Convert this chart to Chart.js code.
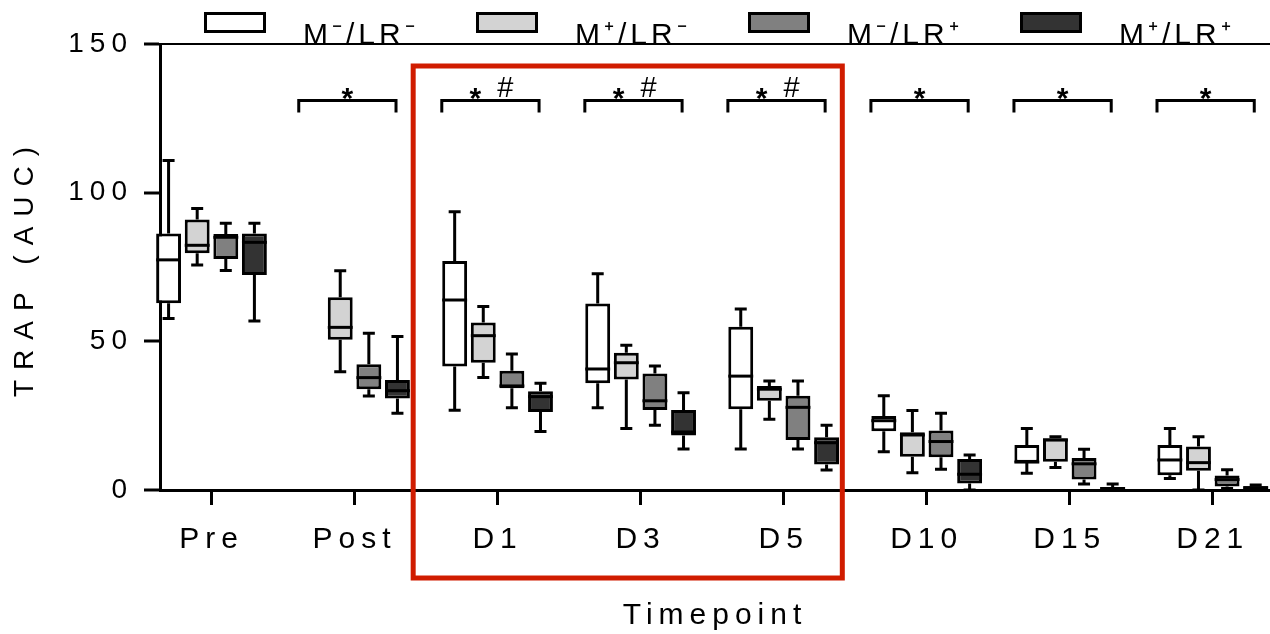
<!DOCTYPE html>
<html>
<head>
<meta charset="utf-8">
<title>TRAP (AUC) by timepoint</title>
<script src="https://cdn.jsdelivr.net/npm/chart.js@4.4.1/dist/chart.umd.min.js"></script>
<style>
  html, body { margin: 0; padding: 0; background: #fff; }
  canvas { display: block; }
</style>
</head>
<body>
<canvas id="trapChart" width="1270" height="634"></canvas>
<script>
// x axis categories
const timepoints = ['Pre', 'Post', 'D1', 'D3', 'D5', 'D10', 'D15', 'D21'];
const groupNames = ['M⁻/LR⁻', 'M⁺/LR⁻', 'M⁻/LR⁺', 'M⁺/LR⁺'];
const groupColors = ['#ffffff', '#d3d3d3', '#808080', '#333333'];
const yTicks = [0, 50, 100, 150];

// one box per timepoint: [min, q1, median, q3, max]
const mNegLrNeg = [
  [57.7, 62.8, 77.4, 86.3, 110.8], null, [26.8, 41.5, 63.9, 77.0, 93.6], [27.7, 35.9, 40.7, 62.7, 72.7],
  [13.8, 27.2, 38.3, 54.9, 60.9], [12.9, 19.8, 23.3, 24.9, 31.7], [5.6, 9.2, 9.4, 15.1, 20.7], [3.9, 5.0, 10.1, 15.1, 20.7]
];
const mPosLrNeg = [
  [75.7, 79.6, 82.3, 91.0, 94.7], [39.8, 50.5, 54.7, 64.8, 73.7], [37.8, 42.8, 51.9, 56.3, 61.7], [20.7, 37.2, 42.8, 46.2, 48.7],
  [23.8, 30.0, 33.9, 35.0, 36.7], [5.8, 11.2, 18.5, 19.4, 26.7], [7.6, 9.5, 16.8, 17.4, 17.9], [0, 6.5, 9.2, 14.6, 17.9]
];
const mNegLrPos = [
  [73.8, 77.7, 85.0, 86.1, 89.7], [31.6, 33.9, 37.8, 42.3, 52.7], [27.7, 34.2, 35.0, 40.1, 45.7], [21.8, 26.9, 30.0, 39.2, 41.7],
  [13.8, 16.8, 27.8, 31.7, 36.7], [7.0, 11.0, 16.3, 20.0, 25.8], [2.0, 3.5, 8.8, 10.8, 13.7], [0.5, 1.2, 3.5, 4.9, 6.8]
];
const mPosLrPos = [
  [56.8, 72.3, 83.3, 86.3, 89.7], [25.8, 30.8, 33.4, 37.0, 51.6], [19.7, 26.2, 31.4, 33.2, 35.9], [13.8, 18.3, 19.5, 26.9, 32.7],
  [6.7, 8.6, 15.9, 17.7, 21.8], [0, 2.2, 5.3, 10.4, 11.8], [0, 0.2, 0.5, 1.0, 2.0], [0, 0.3, 0.8, 1.3, 1.7]
];
const boxSeries = [mNegLrNeg, mPosLrNeg, mNegLrPos, mPosLrPos];

// significance marks above each timepoint
const sigMarks = ['', '*', '*#', '*#', '*#', '*', '*', '*'];
// timepoints framed in red
const framed = ['D1', 'D5'];

const FONT = "'Liberation Sans', Arial, sans-serif";
Chart.defaults.font.family = FONT;
Chart.defaults.color = '#000';

// whiskers under the boxes, medians on top
const boxParts = {
  id: 'boxParts',
  beforeDatasetsDraw(chart) {
    const ctx = chart.ctx, y = chart.scales.y;
    ctx.save();
    ctx.strokeStyle = '#000';
    ctx.lineWidth = 3;
    boxSeries.forEach((series, d) => {
      const meta = chart.getDatasetMeta(d);
      series.forEach((b, i) => {
        if (!b) return;
        const x = meta.data[i].x;
        const lo = y.getPixelForValue(b[0]), hi = y.getPixelForValue(b[4]);
        ctx.beginPath();
        ctx.moveTo(x, y.getPixelForValue(b[3])); ctx.lineTo(x, hi);
        ctx.moveTo(x, y.getPixelForValue(b[1])); ctx.lineTo(x, lo);
        ctx.moveTo(x - 6, hi); ctx.lineTo(x + 6, hi);
        ctx.moveTo(x - 6, lo); ctx.lineTo(x + 6, lo);
        ctx.stroke();
      });
    });
    ctx.restore();
  },
  afterDatasetsDraw(chart) {
    const ctx = chart.ctx, y = chart.scales.y;
    ctx.save();
    ctx.strokeStyle = '#000';
    ctx.lineWidth = 3;
    boxSeries.forEach((series, d) => {
      const meta = chart.getDatasetMeta(d);
      series.forEach((b, i) => {
        if (!b) return;
        const bar = meta.data[i];
        const m = y.getPixelForValue(b[2]);
        ctx.beginPath();
        ctx.moveTo(bar.x - bar.width / 2, m);
        ctx.lineTo(bar.x + bar.width / 2, m);
        ctx.stroke();
      });
    });
    ctx.restore();
  }
};

// spaced lettering like the original figure
const spacing = {
  id: 'spacing',
  beforeUpdate(chart) { chart.ctx.letterSpacing = '6px'; },
  beforeDraw(chart) { chart.ctx.letterSpacing = '6px'; },
  afterLayout(chart) {
    const ys = chart.scales.y;
    if (ys._wideTitle) return;
    const base = ys.drawTitle.bind(ys);
    ys.drawTitle = () => {
      ys.ctx.save();
      ys.ctx.letterSpacing = '10px';
      base();
      ys.ctx.restore();
    };
    ys._wideTitle = true;
  }
};

const extras = {
  id: 'extras',
  afterDraw(chart) {
    const ctx = chart.ctx, x = chart.scales.x, y = chart.scales.y, area = chart.chartArea;
    const unit = x.getPixelForValue(1) - x.getPixelForValue(0);
    ctx.save();

    // legend row
    ctx.font = '30px ' + FONT;
    ctx.letterSpacing = '4px';
    ctx.textBaseline = 'alphabetic';
    ctx.textAlign = 'left';
    groupNames.forEach((name, k) => {
      const bx = area.left + 44 + k * 272;
      ctx.fillStyle = groupColors[k];
      ctx.fillRect(bx, 12, 62, 21);
      ctx.lineWidth = 3;
      ctx.strokeStyle = '#000';
      ctx.strokeRect(bx + 1.5, 13.5, 59, 18);
      ctx.fillStyle = '#000';
      ctx.fillText(name, bx + 99, 44);
    });

    // significance brackets
    ctx.letterSpacing = '0px';
    ctx.lineWidth = 3;
    ctx.textAlign = 'center';
    ctx.textBaseline = 'middle';
    const top = y.getPixelForValue(131), drop = y.getPixelForValue(127);
    sigMarks.forEach((mark, i) => {
      if (!mark) return;
      const c = x.getPixelForValue(i);
      const l = c - 0.39 * unit, r = c + 0.29 * unit, mid = (l + r) / 2;
      ctx.beginPath();
      ctx.moveTo(l, drop); ctx.lineTo(l, top); ctx.lineTo(r, top); ctx.lineTo(r, drop);
      ctx.stroke();
      ctx.font = 'bold 30px ' + FONT;
      if (mark === '*') {
        ctx.fillText('*', mid, top - 1);
      } else {
        ctx.fillText('*', mid - 15, top - 1);
        ctx.font = '29px ' + FONT;
        ctx.fillText('#', mid + 15, top - 11);
      }
    });

    // red frame around the early timepoints
    const i0 = timepoints.indexOf(framed[0]), i1 = timepoints.indexOf(framed[1]);
    const fl = x.getPixelForValue(i0 - 0.59), fr = x.getPixelForValue(i1 + 0.41);
    const ft = y.getPixelForValue(142.6), fb = y.getPixelForValue(-29.6);
    ctx.strokeStyle = '#d01c00';
    ctx.lineWidth = 5;
    ctx.strokeRect(fl, ft, fr - fl, fb - ft);
    ctx.restore();
  }
};

const datasets = groupNames.map((name, k) => ({
  label: name,
  data: boxSeries[k].map((b, i) => ({ x: i, y: b ? [b[1], b[3]] : null })),
  backgroundColor: groupColors[k],
  borderColor: '#000',
  borderWidth: 3,
  borderSkipped: false,
  clip: false,
  categoryPercentage: 0.8,
  barPercentage: 0.87
}));

new Chart(document.getElementById('trapChart'), {
  type: 'bar',
  data: { datasets },
  options: {
    responsive: false,
    devicePixelRatio: 1,
    animation: false,
    events: [],
    layout: { padding: { top: 44, left: 0, right: 0, bottom: 0 } },
    plugins: { legend: { display: false }, tooltip: { enabled: false } },
    scales: {
      x: {
        type: 'linear',
        min: -0.36,
        max: 7.40,
        offset: false,
        border: { display: true, color: '#000', width: 3 },
        grid: { offset: false, drawOnChartArea: false, tickLength: 15, tickColor: '#000', tickWidth: 3 },
        ticks: {
          stepSize: 1,
          includeBounds: false,
          autoSkip: false,
          maxRotation: 0,
          padding: 17,
          font: { size: 30 },
          callback: v => timepoints[v] ?? ''
        },
        title: { display: true, text: 'Timepoint', font: { size: 30 }, padding: { top: 0, bottom: 0 } },
        afterFit: s => { s.height = 144; }
      },
      y: {
        min: 0,
        max: 150,
        border: { display: true, color: '#000', width: 3 },
        grid: {
          color: c => c.tick.value === yTicks[yTicks.length - 1] ? '#000' : 'rgba(0,0,0,0)',
          lineWidth: 2,
          tickLength: 16,
          tickColor: '#000',
          tickWidth: 3
        },
        afterBuildTicks: s => { s.ticks = yTicks.map(v => ({ value: v })); },
        ticks: { padding: 11, font: { size: 28 } },
        title: { display: true, text: 'TRAP (AUC)', font: { size: 28 }, padding: { top: 8, bottom: 0 } },
        afterFit: s => { s.width = 160; }
      }
    }
  },
  plugins: [spacing, boxParts, extras]
});
</script>
</body>
</html>
